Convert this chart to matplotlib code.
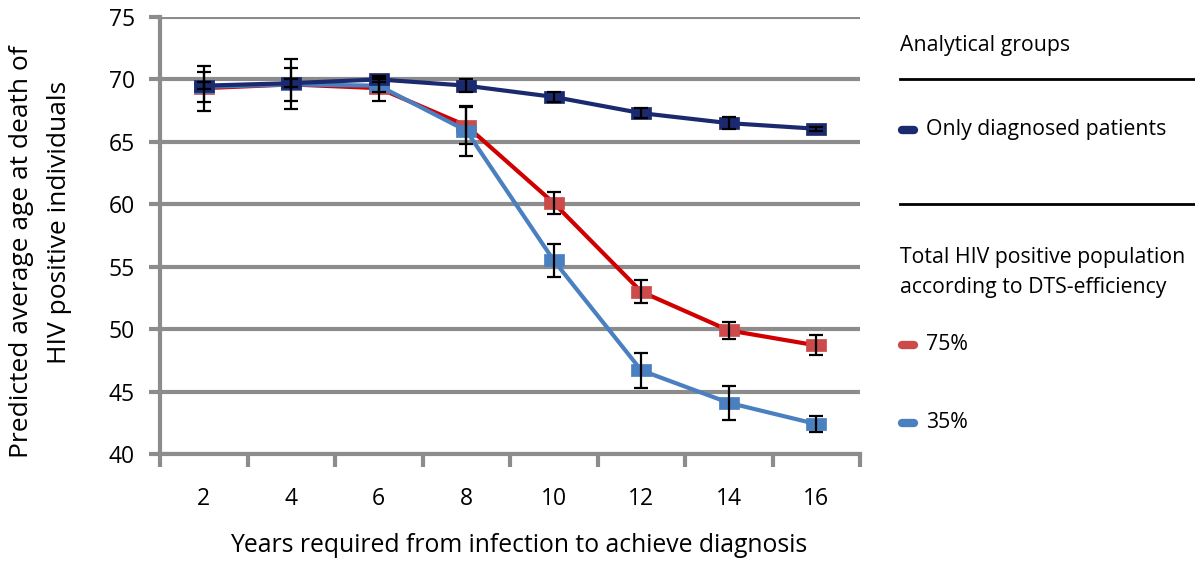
import numpy as np
import matplotlib.pyplot as plt
from matplotlib.lines import Line2D

years = [2, 4, 6, 8, 10, 12, 14, 16]

only_diag = [69.5, 69.7, 70.0, 69.5, 68.6, 67.3, 66.5, 66.05]
only_diag_err = [0.3, 0.3, 0.2, 0.5, 0.4, 0.4, 0.5, 0.15]

dts75 = [69.3, 69.6, 69.3, 66.3, 60.1, 53.0, 49.9, 48.7]
dts75_err = [1.8, 2.0, 1.0, 1.5, 0.85, 0.9, 0.7, 0.8]

dts35 = [69.4, 69.6, 69.5, 65.9, 55.5, 46.7, 44.1, 42.4]
dts35_err = [1.2, 1.3, 0.5, 2.0, 1.3, 1.4, 1.35, 0.65]

yticks = [40, 45, 50, 55, 60, 65, 70, 75]

navy = '#1b2a6e'
red_line = '#d00000'
red_mark = '#cc4a4a'
blue = '#4a80c0'
grid_col = '#8c8c8c'

plt.rcParams['font.family'] = ['Open Sans', 'DejaVu Sans']

fig = plt.figure(figsize=(11.95, 5.61), dpi=100)
ax = fig.add_axes([160 / 1195, 107 / 561, 700 / 1195, 437 / 561])

x = np.arange(len(years))
rect = [(-1.7, -1), (1.7, -1), (1.7, 1), (-1.7, 1), (-1.7, -1)]

ax.plot(x, dts75, color=red_line, lw=3, marker=rect, ms=14,
        mfc=red_mark, mec=red_mark, mew=0.5, zorder=3)
ax.plot(x, dts35, color=blue, lw=3, marker=rect, ms=14,
        mfc=blue, mec=blue, mew=0.5, zorder=4)
ax.plot(x, only_diag, color=navy, lw=3, marker=rect, ms=14,
        mfc=navy, mec=navy, mew=0.5, zorder=5)

for vals, errs in [(dts75, dts75_err), (dts35, dts35_err), (only_diag, only_diag_err)]:
    ax.errorbar(x, vals, yerr=errs, fmt='none', ecolor='black',
                elinewidth=1.6, capsize=5, capthick=1.6, zorder=6)

ax.set_xlim(-0.5, len(years) - 0.5)
ax.set_ylim(40, 75)
ax.set_yticks(yticks)
ax.set_xticks(x)
ax.set_xticklabels([str(v) for v in years])
ax.set_xticks(np.arange(-0.5, len(years)), minor=True)

ax.grid(axis='y', color=grid_col, lw=3, zorder=0)
ax.set_axisbelow(True)
for side in ['top', 'right']:
    ax.spines[side].set_visible(False)
for side in ['left', 'bottom']:
    ax.spines[side].set_color(grid_col)
    ax.spines[side].set_linewidth(3)

ax.tick_params(axis='y', length=8, width=3, color=grid_col, labelsize=16.5, pad=10)
ax.tick_params(axis='x', which='major', length=0, labelsize=16.5, pad=24)
ax.tick_params(axis='x', which='minor', length=9, width=3, color=grid_col)

ax.set_xlabel('Years required from infection to achieve diagnosis', fontsize=17.8, va='center')
ax.xaxis.set_label_coords((519 - 160) / 700, (454 - 545) / 437)

fig.text(22 / 1195, 1 - 252 / 561, 'Predicted average age at death of',
         rotation=90, ha='center', va='center', fontsize=19)
fig.text(60 / 1195, 1 - 222 / 561, 'HIV positive individuals',
         rotation=90, ha='center', va='center', fontsize=19)

# legend panel on the right
lx = 900 / 1195
fig.text(lx, 1 - 45 / 561, 'Analytical groups', fontsize=15.3, va='center')
for yy in [79, 204]:
    fig.add_artist(Line2D([lx, 1.0], [1 - yy / 561] * 2, color='black', lw=2))
fig.text(lx, 1 - 257 / 561, 'Total HIV positive population', fontsize=15.3, va='center')
fig.text(lx, 1 - 287 / 561, 'according to DTS-efficiency', fontsize=15.3, va='center')

entries = [(130, navy, 'Only diagnosed patients'),
           (345, red_mark, '75%'),
           (423, blue, '35%')]
for yy, col, label in entries:
    yf = 1 - yy / 561
    fig.add_artist(Line2D([lx + 2 / 1195, 914 / 1195], [yf, yf], color=col, lw=6,
                          solid_capstyle='round'))
    fig.text(926 / 1195, yf, label, fontsize=15.3, va='center')

fig.savefig('out.png', dpi=100)
